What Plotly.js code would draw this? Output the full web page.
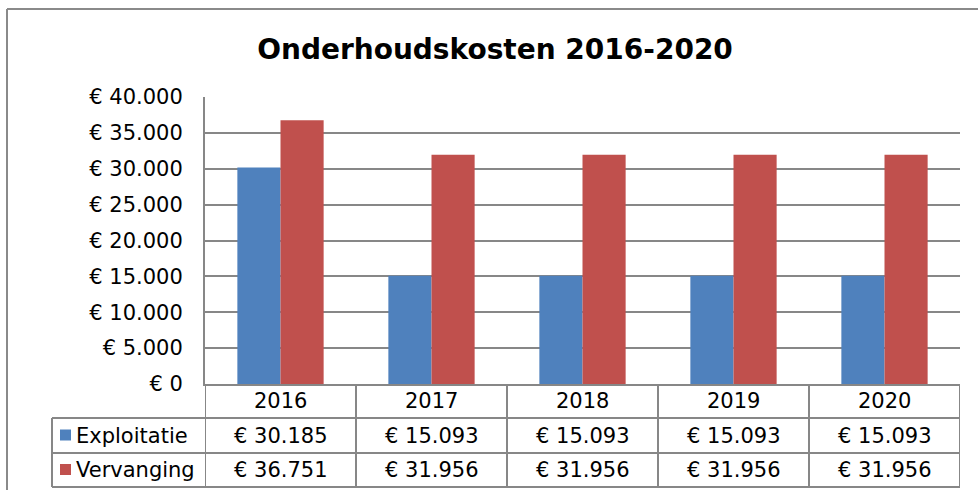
<!DOCTYPE html>
<html><head><meta charset="utf-8">
<script src="https://cdn.plot.ly/plotly-3.0.1.min.js"></script>
<style>html,body{margin:0;padding:0;background:#fff}</style>
</head><body><div id="chart" style="width:978px;height:490px"></div>
<script>
const years = ['2016', '2017', '2018', '2019', '2020'];
const exploitatie = [30185, 15093, 15093, 15093, 15093];
const vervanging = [36751, 31956, 31956, 31956, 31956];
const seriesNames = ['Exploitatie', 'Vervanging'];
const seriesColors = ['#4F81BD', '#C0504D'];
const yTickVals = [0, 5000, 10000, 15000, 20000, 25000, 30000, 35000, 40000];
const chartTitle = 'Onderhoudskosten 2016-2020';

const FONT = 'DejaVu Sans, Verdana, sans-serif';
const GRID = '#878787';
const W = 978, H = 490, L = 205, R = 960, T = 97, B = 384;
const px = x => (x - L) / (R - L);
const py = y => (B - y) / (B - T);
const fmt = n => '€ ' + String(n).replace(/\B(?=(\d{3})+(?!\d))/g, '.');

const seriesValues = [exploitatie, vervanging];
const traces = seriesValues.map((vals, s) => ({
  type: 'bar', x: years, y: vals, name: seriesNames[s],
  marker: {color: seriesColors[s]}, hoverinfo: 'none'
}));

const rowCenters = [401, 435.5, 470];
const rowLines = [418, 453, 487];
const annotations = [];
const shapes = [];

years.forEach((yr, i) => {
  annotations.push({xref: 'x', x: i, yref: 'paper', y: py(rowCenters[0]), text: yr,
    showarrow: false, xanchor: 'center', yanchor: 'middle', font: {family: FONT, size: 21, color: '#000'}});
  seriesValues.forEach((vals, s) => {
    annotations.push({xref: 'x', x: i, yref: 'paper', y: py(rowCenters[s + 1]), text: fmt(vals[i]),
      showarrow: false, xanchor: 'center', yanchor: 'middle', font: {family: FONT, size: 21, color: '#000'}});
  });
});
seriesNames.forEach((nm, s) => {
  annotations.push({xref: 'paper', x: px(74), yref: 'paper', y: py(rowCenters[s + 1]), text: nm,
    showarrow: false, xanchor: 'left', yanchor: 'middle', font: {family: FONT, size: 21, color: '#000'}});
  const cy = rowCenters[s + 1];
  shapes.push({type: 'rect', xref: 'paper', yref: 'paper', x0: px(60), x1: px(71), y0: py(cy - 6), y1: py(cy + 5),
    fillcolor: seriesColors[s], line: {width: 0}});
});

const lineStyle = {color: GRID, width: 2};
// horizontal table lines
rowLines.forEach(yy => shapes.push({type: 'line', xref: 'paper', yref: 'paper', x0: px(52), x1: 1, y0: py(yy), y1: py(yy), line: lineStyle}));
// vertical table lines at category boundaries
for (let k = 0; k <= years.length; k++) {
  shapes.push({type: 'line', xref: 'x', yref: 'paper', x0: k - 0.5, x1: k - 0.5, y0: 0, y1: py(487), line: lineStyle});
}
shapes.push({type: 'line', xref: 'paper', yref: 'paper', x0: px(52), x1: px(52), y0: py(418), y1: py(487), line: lineStyle});
// outer chart border
shapes.push({type: 'line', xref: 'paper', yref: 'paper', x0: px(7), x1: px(7), y0: py(9), y1: py(620), line: {color: '#8a8a8a', width: 2}});
shapes.push({type: 'line', xref: 'paper', yref: 'paper', x0: px(7), x1: px(1100), y0: py(9), y1: py(9), line: {color: '#8a8a8a', width: 2}});

const layout = {
  width: W, height: H,
  margin: {l: L, r: W - R, t: T, b: H - B, pad: 0},
  paper_bgcolor: '#fff', plot_bgcolor: '#fff',
  showlegend: false,
  barmode: 'group', bargap: 1.5 / 3.5, bargroupgap: 0,
  title: {text: chartTitle, font: {family: FONT, size: 28, color: '#000', weight: 700},
    xref: 'container', x: 495 / W, xanchor: 'center', yref: 'container', y: 1 - 49 / H, yanchor: 'middle'},
  xaxis: {type: 'category', range: [-0.5, years.length - 0.5], showticklabels: false, ticks: '',
    showgrid: false, zeroline: false, showline: true, linecolor: GRID, linewidth: 2, fixedrange: true},
  yaxis: {range: [0, 40000], tickvals: yTickVals, ticktext: yTickVals.map(fmt), ticks: '',
    ticklabelstandoff: 16, showgrid: true, gridcolor: GRID, gridwidth: 2, zeroline: false,
    showline: true, linecolor: GRID, linewidth: 2, tickfont: {family: FONT, size: 21, color: '#000'}, fixedrange: true},
  annotations: annotations,
  shapes: shapes
};

Plotly.newPlot('chart', traces, layout, {staticPlot: true, displayModeBar: false});
</script></body></html>
